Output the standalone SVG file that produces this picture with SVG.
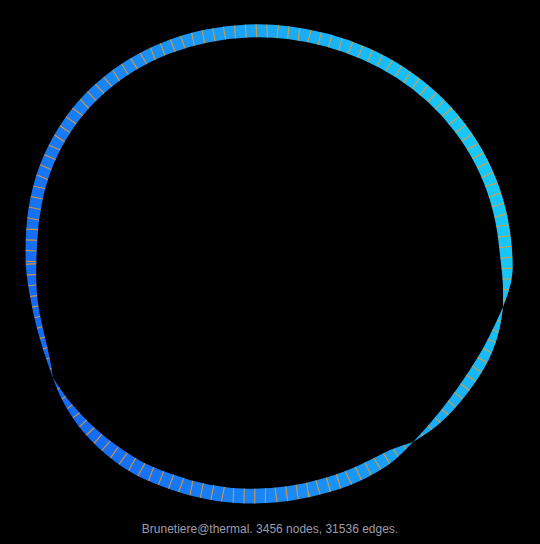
<svg xmlns="http://www.w3.org/2000/svg" width="540" height="544" viewBox="0 0 540 544">
  <defs>
    <linearGradient id="bandGrad" gradientUnits="userSpaceOnUse" x1="30" y1="380" x2="510" y2="200">
      <stop offset="0" stop-color="#1466f4"/>
      <stop offset="0.4" stop-color="#1a8af6"/>
      <stop offset="1" stop-color="#19caf8"/>
    </linearGradient>
    <path id="segTop" d="M53,378 L50.55,371.25 Q48.1,364.5 44.7,354.5 Q41.3,344.5 38.55,334.35 Q35.8,324.2 33.55,313.95 Q31.3,303.7 29.45,293.35 Q27.6,283 26.4,272.5 Q25.2,262 25.7,240.7 Q26.2,219.4 30.4,198.25 Q34.6,177.1 43.15,157.1 Q51.7,137.1 64.2,119.25 Q76.7,101.4 92.55,86.6 Q108.4,71.8 126.75,60.45 Q145.1,49.1 165.05,41.45 Q185,33.8 205.65,29.6 Q226.3,25.4 247.15,24.55 Q268,23.7 288.55,26.15 Q309.1,28.6 329.05,34.05 Q349,39.5 367.95,47.8 Q386.9,56.1 404.35,67.45 Q421.8,78.8 437.15,92.95 Q452.5,107.1 465.25,123.9 Q478,140.7 487.55,159.65 Q497.1,178.6 503.1,199.05 Q509.1,219.5 511.2,240.75 Q513.3,262 512.45,272.65 Q511.6,283.3 507.3,295.15 L503,307 L503.05,294.8 Q503.1,282.6 501.95,272.3 Q500.8,262 498.55,241.9 Q496.3,221.8 490.6,202.45 Q484.9,183.1 475.85,165.18 Q466.8,147.25 454.7,131.38 Q442.6,115.5 428,102.1 Q413.4,88.7 396.9,78.05 Q380.4,67.4 362.45,59.55 Q344.5,51.7 325.7,46.55 Q306.9,41.4 287.45,39.05 Q268,36.7 248.3,37.5 Q228.6,38.3 209,42.2 Q189.4,46.1 170.5,53.25 Q151.6,60.4 134.15,71.1 Q116.7,81.8 101.45,95.65 Q86.2,109.5 74.35,126.43 Q62.5,143.35 54.4,162.33 Q46.3,181.3 42.2,201.4 Q38.1,221.5 37.15,241.75 Q36.2,262 36.15,272.15 Q36.1,282.3 36.85,292.45 Q37.6,302.6 39.5,312.65 Q41.4,322.7 43.9,332.65 Q46.4,342.6 48.6,352.95 Q50.8,363.3 51.9,370.65 L53,378 Z"/>
    <path id="segRight" d="M503,307 L501.6,317.8 Q500.2,328.6 496.45,340.25 Q492.7,351.9 488.2,360.75 Q483.7,369.6 478.3,377.85 Q472.9,386.1 466.15,394.85 Q459.4,403.6 451.75,411.8 Q444.1,420 436.65,425.95 Q429.2,431.9 421.1,436.95 L413,442 L419.4,435.15 Q425.8,428.3 431.75,421.3 Q437.7,414.3 444.3,405.8 Q450.9,397.3 457,388.7 Q463.1,380.1 468.25,372.25 Q473.4,364.4 478.4,356.3 Q483.4,348.2 488.7,337.5 Q494,326.8 498.5,316.9 L503,307 Z"/>
    <path id="segBottom" d="M413,442 L404.55,450.65 Q396.1,459.3 387.7,465.25 Q379.3,471.2 364.45,478.65 Q349.6,486.1 329.6,492.1 Q309.6,498.1 288.8,501.05 Q268,504 246.75,503.55 Q225.5,503.1 204.45,498.85 Q183.4,494.6 163,486.85 Q142.6,479.1 133.15,473.6 Q123.7,468.1 114.95,461.45 Q106.2,454.8 98.1,447.4 Q90,440 82.95,431.6 Q75.9,423.2 70.15,413.85 Q64.4,404.5 61.1,397.65 Q57.8,390.8 55.4,384.4 L53,378 L56.7,383.6 Q60.4,389.2 64.85,395.15 Q69.3,401.1 76.25,409.1 Q83.2,417.1 90.8,424.35 Q98.4,431.6 106.65,438.05 Q114.9,444.5 123.45,450.35 Q132,456.2 141.05,461.15 Q150.1,466.1 169.3,473.3 Q188.5,480.5 208.3,484.4 Q228.1,488.3 248.05,488.65 Q268,489 287.5,486.15 Q307,483.3 325.7,477.65 Q344.4,472 358.55,465.45 Q372.7,458.9 381.3,454.3 Q389.9,449.7 401.45,445.85 L413,442 Z"/>
    <clipPath id="bandClip">
      <use href="#segTop"/>
      <use href="#segRight"/>
      <use href="#segBottom"/>
    </clipPath>
    <style>
      .band { fill: url(#bandGrad); stroke: none; }
      .ticks { fill: none; stroke: #f29a22; stroke-width: 30; stroke-dasharray: 1.1 9.6; opacity: 0.85; }
      .caption { font-family: "Liberation Sans", Arial, sans-serif; font-size: 12px; fill: #9c9cac; }
    </style>
  </defs>
  <rect x="0" y="0" width="540" height="544" fill="#000000"/>
  <g id="ring">
    <use id="band-top" class="band" href="#segTop"/>
    <use id="band-right" class="band" href="#segRight"/>
    <use id="band-bottom" class="band" href="#segBottom"/>
    <g id="ring-edges" clip-path="url(#bandClip)">
      <path class="ticks" d="M30.7,262 L32.2,220.5 L40.5,179.2 L57.1,140.2 L81.5,105.5 L112.6,76.8 L148.4,54.8 L187.2,40 L227.5,31.9 L268,30.2 L308,35 L346.8,45.6 L383.7,61.8 L417.6,83.8 L447.6,111.3 L472.4,144 L491,180.9 L502.7,220.7 L507,262 L507.4,283 L503,307 L497.1,327.7 L488,350 L478.5,367 L468,383.1 L455.2,400.5 L440.9,417.2 L427.5,430.1 L413,442 L393,454.5 L376,465 L347,479 L308.3,490.7 L268,496.5 L226.8,495.7 L186,487.6 L146.4,472.6 L127.9,462.2 L110.6,449.7 L94.2,435.8 L79.6,420.2 L66.9,402.8 L59.1,390 L53,378 L49.5,364 L43.9,343.6 L38.6,323.5 L34.5,303.2 L31.9,282.7 Z"/>
    </g>
  </g>
  <text id="caption" class="caption" x="270" y="533" text-anchor="middle">Brunetiere@thermal. 3456 nodes, 31536 edges.</text>
</svg>
